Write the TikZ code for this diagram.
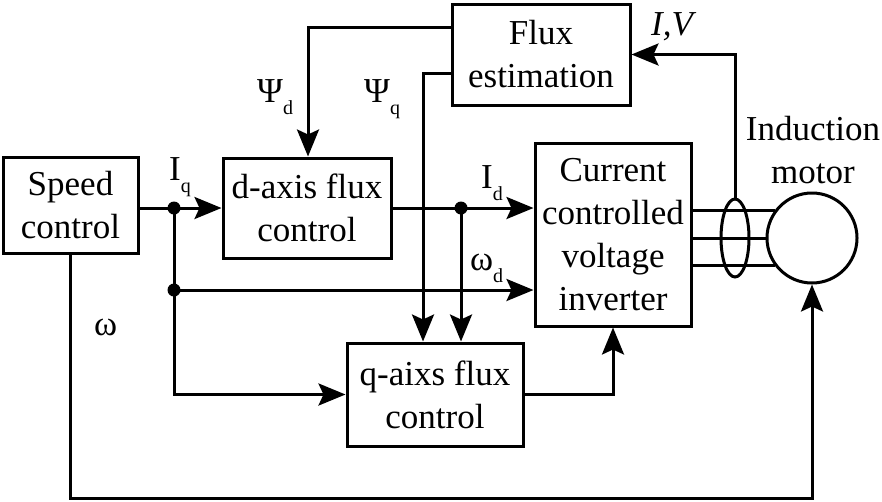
\documentclass[tikz,border=0pt]{standalone}
\usepackage{fontspec}
\setmainfont{Liberation Serif}
\usetikzlibrary{arrows.meta, shapes.geometric}

\newcommand{\idx}[1]{\raisebox{-12pt}{\fontsize{20}{20}\selectfont #1}}
\tikzset{
  block/.style={draw, line width=3pt, align=center, inner sep=0pt},
  flow/.style={line width=3pt, -{Stealth[length=27pt,width=22pt,inset=5pt]}},
  wire/.style={line width=3pt},
  lbl/.style={anchor=base west, inner sep=0pt}
}

\begin{document}
\begin{tikzpicture}[x=1pt, y=-1pt, font=\rmfamily\fontsize{35}{43}\selectfont]
        \useasboundingbox (0,0) rectangle (882,501);
        % blocks
        \node[block, minimum width=135pt, minimum height=96pt] (speed) at (70.5,205) {Speed\\control};
        \node[block, minimum width=168pt, minimum height=100pt] (dflux) at (307,208) {d-axis flux\\control};
        \node[block, minimum width=178pt, minimum height=101pt] (flux) at (541,54.5) {Flux\\estimation};
        \node[block, minimum width=156pt, minimum height=183pt] (inv) at (613,234.5) {Current\\controlled\\voltage\\inverter};
        \node[block, minimum width=176pt, minimum height=103pt] (qflux) at (435,394.5) {q-aixs flux\\control};
        \node[circle, draw, line width=3pt, minimum size=90pt, inner sep=0pt] (motor) at (812,238) {};
        \node[align=center] (mlabel) at (813,150.5) {Induction\\motor};
        % junctions
        \coordinate (jq) at (174,208);
        \coordinate (jw) at (174,290);
        \coordinate (jd) at (461,208);
        \coordinate (pd) at (308,27);
        \coordinate (pq) at (423,73);
        \coordinate (low) at (440,498);
        % signals
        \draw[wire] (speed.east |- jq) -- (jq);
        \draw[flow] (jq) -- (dflux.west |- jq);
        \draw[flow] (jq) |- (qflux.west);
        \draw[flow] (jw) -- (inv.west |- jw);
        \draw[flow] (dflux.east) -- (inv.west |- dflux.east);
        \draw[flow] (jd) -- (qflux.north -| jd);
        \draw[flow] (flux.west |- pd) -- (pd) -- (dflux.north -| pd);
        \draw[flow] (flux.west |- pq) -- (pq) -- (qflux.north -| pq);
        \draw[flow] (qflux.east) -| (inv.south);
        \draw[flow] (speed.south) |- (low) -| (motor.south);
        \foreach \a in {143,180,217}
            \draw[wire] (inv.east |- motor.\a) -- (motor.\a);
        \node[ellipse, draw, line width=3pt, minimum width=28pt, minimum height=78pt, inner sep=0pt] (sensor) at (735,238) {};
        \draw[flow] (sensor.north) |- (flux.east);
        \foreach \j in {jq,jw,jd}
            \fill (\j) circle (6.5pt);
        % labels
        \node[lbl] (iq) at (169,180) {I\idx{q}};
        \node[lbl] (id) at (481,188) {I\idx{d}};
        \node[lbl] (wd) at (470,270) {ω\idx{d}};
        \node[lbl] (psid) at (257,102) {Ψ\idx{d}};
        \node[lbl] (psiq) at (364,102) {Ψ\idx{q}};
        \node[lbl] (w) at (94,335) {ω};
        \node[lbl] (iv) at (651,35) {\textit{I,V}};
    \end{tikzpicture}
\end{document}
